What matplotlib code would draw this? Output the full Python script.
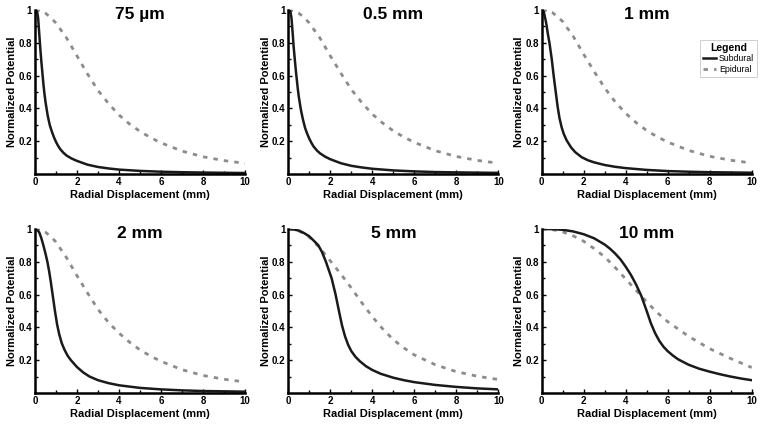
import matplotlib.pyplot as plt

plt.rcParams['font.family'] = ['Liberation Sans', 'DejaVu Sans']
plt.rcParams['font.weight'] = 'bold'

titles = ["75 \u00b5m", "0.5 mm", "1 mm", "2 mm", "5 mm", "10 mm"]

# subdural curves (x, y)
x_fast = [0, 0.05, 0.1, 0.15, 0.2, 0.25, 0.3, 0.35, 0.4, 0.45, 0.5, 0.6, 0.7, 0.8, 0.9,
          1.0, 1.1, 1.2, 1.35, 1.5, 1.75, 2, 2.5, 3, 3.5, 4, 5, 6, 7, 8, 10]
sub_75um = [0.99, 1.0, 0.99, 0.95, 0.86, 0.77, 0.69, 0.62, 0.55, 0.49, 0.44, 0.36, 0.3, 0.26, 0.225,
            0.196, 0.172, 0.152, 0.13, 0.113, 0.094, 0.08, 0.057, 0.043, 0.034, 0.027, 0.019, 0.014, 0.011, 0.009, 0.006]
sub_05mm = [0.99, 1.0, 0.99, 0.95, 0.87, 0.78, 0.71, 0.64, 0.58, 0.52, 0.47, 0.39, 0.33, 0.28, 0.245,
            0.215, 0.19, 0.168, 0.145, 0.127, 0.106, 0.09, 0.066, 0.05, 0.04, 0.032, 0.022, 0.016, 0.012, 0.01, 0.007]

x_1mm = [0, 0.1, 0.2, 0.24, 0.3, 0.37, 0.48, 0.57, 0.67, 0.76, 0.85, 0.95, 1.05, 1.19,
         1.4, 1.6, 1.9, 2.2, 2.5, 3, 3.5, 4, 5, 6, 7, 8, 10]
sub_1mm = [1.0, 0.99, 0.93, 0.9, 0.85, 0.8, 0.7, 0.6, 0.5, 0.41, 0.34, 0.285, 0.245, 0.205,
           0.162, 0.133, 0.103, 0.084, 0.071, 0.055, 0.044, 0.036, 0.025, 0.018, 0.014, 0.011, 0.008]

x_2mm = [0, 0.1, 0.2, 0.3, 0.4, 0.5, 0.59, 0.67, 0.75, 0.85, 0.95, 1.05, 1.15, 1.27, 1.4,
         1.55, 1.71, 2, 2.3, 2.6, 3, 3.5, 4, 5, 6, 7, 8, 10]
sub_2mm = [1.0, 0.995, 0.98, 0.945, 0.9, 0.85, 0.8, 0.745, 0.68, 0.59, 0.5, 0.42, 0.36, 0.305, 0.265,
           0.228, 0.2, 0.158, 0.125, 0.1, 0.078, 0.06, 0.047, 0.031, 0.022, 0.016, 0.012, 0.008]

x_5mm = [0, 0.25, 0.5, 0.75, 1, 1.2, 1.43, 1.6, 1.79, 2.06, 2.25, 2.41, 2.55, 2.7, 2.85,
         3.0, 3.2, 3.41, 3.7, 4.0, 4.4, 5, 5.5, 6, 7, 8, 9, 10]
sub_5mm = [1.0, 0.997, 0.99, 0.975, 0.955, 0.93, 0.9, 0.86, 0.8, 0.7, 0.6, 0.5, 0.415, 0.345, 0.293,
           0.255, 0.22, 0.193, 0.163, 0.14, 0.117, 0.093, 0.078, 0.066, 0.049, 0.037, 0.028, 0.022]

x_10mm = [0, 0.5, 1, 1.5, 2, 2.5, 3, 3.25, 3.5, 3.75, 4, 4.25, 4.5, 4.75, 5, 5.2, 5.4,
          5.6, 5.8, 6, 6.25, 6.5, 7, 7.5, 8, 8.5, 9, 9.5, 10]
sub_10mm = [1.0, 0.999, 0.995, 0.985, 0.968, 0.943, 0.905, 0.88, 0.85, 0.815, 0.77, 0.72, 0.66, 0.59, 0.5, 0.425, 0.365,
            0.318, 0.282, 0.255, 0.228, 0.205, 0.172, 0.148, 0.13, 0.114, 0.1, 0.088, 0.078]

sub_x = [x_fast, x_fast, x_1mm, x_2mm, x_5mm, x_10mm]
sub_y = [sub_75um, sub_05mm, sub_1mm, sub_2mm, sub_5mm, sub_10mm]

# epidural curves
epi_x = [0, 0.25, 0.5, 0.75, 1, 1.5, 2, 2.5, 3, 3.5, 4, 4.5, 5, 5.5, 6, 7, 8, 9, 10]
epi_y = [
    [1, 0.995, 0.98, 0.955, 0.92, 0.83, 0.72, 0.61, 0.51, 0.43, 0.36, 0.305, 0.26, 0.222, 0.19, 0.14, 0.105, 0.082, 0.065],
    [1, 0.995, 0.98, 0.955, 0.92, 0.83, 0.72, 0.615, 0.515, 0.435, 0.365, 0.31, 0.263, 0.225, 0.193, 0.142, 0.107, 0.083, 0.066],
    [1, 0.996, 0.985, 0.96, 0.93, 0.84, 0.73, 0.625, 0.525, 0.44, 0.37, 0.313, 0.265, 0.227, 0.195, 0.144, 0.108, 0.084, 0.067],
    [1, 0.995, 0.98, 0.955, 0.92, 0.825, 0.715, 0.61, 0.51, 0.43, 0.365, 0.31, 0.263, 0.225, 0.193, 0.142, 0.107, 0.084, 0.067],
    [1, 0.997, 0.988, 0.972, 0.95, 0.885, 0.805, 0.725, 0.64, 0.55, 0.465, 0.39, 0.325, 0.275, 0.232, 0.172, 0.13, 0.102, 0.082],
    [1, 0.999, 0.996, 0.99, 0.982, 0.958, 0.925, 0.88, 0.83, 0.765, 0.695, 0.625, 0.555, 0.49, 0.435, 0.345, 0.27, 0.21, 0.155],
]

fig = plt.figure(figsize=(7.64, 4.26), dpi=100)
lefts = [0.0458, 0.3774, 0.709]
bottoms = [0.5915, 0.0775]
w, h = 0.2749, 0.385

for i in range(6):
    ax = fig.add_axes([lefts[i % 3], bottoms[i // 3], w, h])
    ax.plot(epi_x, epi_y[i], color="#8c8c8c", lw=2, dashes=(1.6, 2.2), label="Epidural")
    ax.plot(sub_x[i], sub_y[i], color="#1a1a1a", lw=1.8, label="Subdural")
    ax.set_xlim(0, 10)
    ax.set_ylim(0, 1)
    ax.set_xticks([0, 2, 4, 6, 8, 10])
    ax.set_xticks([1, 3, 5, 7, 9], minor=True)
    ax.set_yticks([0.2, 0.4, 0.6, 0.8, 1.0])
    ax.set_yticklabels(["0.2", "0.4", "0.6", "0.8", "1"])
    ax.set_yticks([0.1, 0.3, 0.5, 0.7, 0.9], minor=True)
    ax.tick_params(which="both", direction="in", labelsize=7, width=1, pad=2)
    ax.tick_params(which="major", length=3)
    ax.tick_params(which="minor", length=2)
    for s in ["top", "right"]:
        ax.spines[s].set_visible(False)
    for s in ["left", "bottom"]:
        ax.spines[s].set_linewidth(1.8)
    ax.set_xlabel("Radial Displacement (mm)", fontsize=8, fontweight="bold", labelpad=2)
    ax.set_ylabel("Normalized Potential", fontsize=8, fontweight="bold", labelpad=1)
    ax.text(0.5, 0.97, titles[i], transform=ax.transAxes, ha="center", va="center",
            fontsize=12.5, fontweight="bold")
    if i == 0:
        handles, labels = ax.get_legend_handles_labels()

leg = fig.legend(handles[::-1], labels[::-1], title="Legend", loc="upper right",
                 bbox_to_anchor=(0.991, 0.906), fontsize=6.3, title_fontsize=7.5,
                 frameon=True, fancybox=False, edgecolor="#bbbbbb",
                 handlelength=1.5, handletextpad=0.3, borderpad=0.35, labelspacing=0.15,
                 borderaxespad=0)
leg.get_frame().set_linewidth(0.6)
leg.get_title().set_fontweight("bold")
for t in leg.get_texts():
    t.set_fontweight("normal")

fig.savefig("out.png", dpi=100)
